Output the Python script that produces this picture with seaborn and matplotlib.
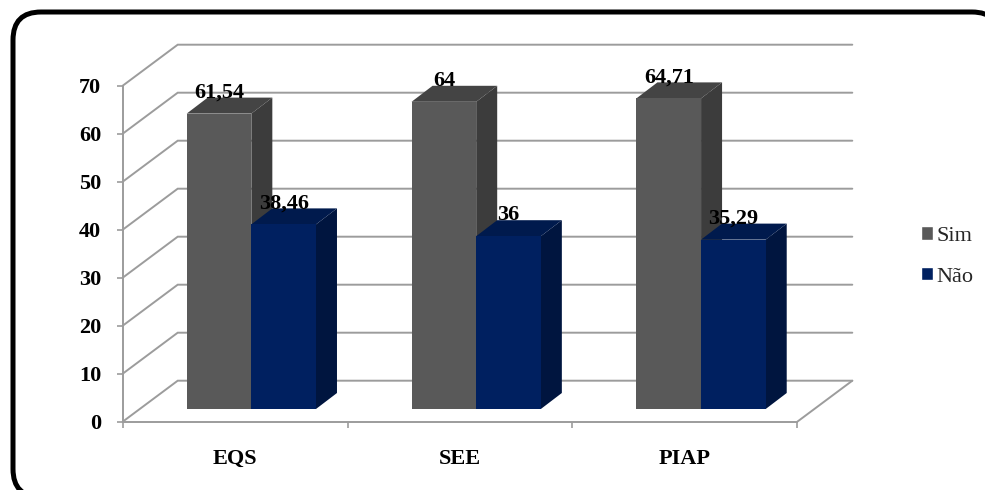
import matplotlib
matplotlib.use("Agg")
import matplotlib.pyplot as plt
import pandas as pd
import seaborn as sns
from matplotlib.patches import FancyBboxPatch, Polygon

categories = ["EQS", "SEE", "PIAP"]
sim_values = [61.54, 64, 64.71]
nao_values = [38.46, 36, 35.29]
series_names = ["Sim", "Não"]
y_ticks = [0, 10, 20, 30, 40, 50, 60, 70]

FRONT = {"Sim": "#595959", "Não": "#002060"}
SIDE = {"Sim": "#3c3c3c", "Não": "#00153f"}
TOP = {"Sim": "#444444", "Não": "#001a4d"}
GRID = "#9c9c9c"
W, H = 985, 490

sns.set_theme(style="white")
plt.rcParams["font.family"] = ["Liberation Serif", "DejaVu Serif"]

df = pd.DataFrame({
    "categoria": categories * 2,
    "resposta": [series_names[0]] * 3 + [series_names[1]] * 3,
    "valor": sim_values + nao_values,
})

fig = plt.figure(figsize=(W / 100, H / 100), dpi=100, facecolor="white")


def axes_rect(left, right, top, bottom):
    return [left / W, 1 - bottom / H, (right - left) / W, (bottom - top) / H]


# Rounded outer frame, running past the right and bottom edges of the canvas
backdrop = fig.add_axes([0, 0, 1, 1], zorder=0)
backdrop.set_xlim(0, W)
backdrop.set_ylim(0, H)
backdrop.axis("off")
backdrop.add_patch(FancyBboxPatch(
    (13, H - 497), 987, 485, boxstyle="round,pad=0,rounding_size=28",
    facecolor="white", edgecolor="black", linewidth=3.6,
))

# Front plane of the chart box: carries the axis lines, ticks and labels
ax = fig.add_axes(axes_rect(122.7, 797.3, 85.7, 421.7), zorder=1)
ax.patch.set_alpha(0)
ax.set_xlim(-0.5, 2.5)
ax.set_ylim(0, 70)
for side in ("top", "right"):
    ax.spines[side].set_visible(False)
for side in ("left", "bottom"):
    ax.spines[side].set_color(GRID)
    ax.spines[side].set_linewidth(1.4)

ax.set_yticks(y_ticks)
ax.set_xticks([-0.5, 0.5, 1.5, 2.5])
ax.set_xticklabels([])
ax.set_xticks(range(len(categories)), categories, minor=True)
ax.tick_params(axis="y", length=4.5, width=1.2, color=GRID, pad=11, left=True,
               labelsize=16, labelcolor="black")
ax.tick_params(axis="x", which="major", length=4.5, width=1.2, color=GRID, bottom=True)
ax.tick_params(axis="x", which="minor", length=0, pad=19.5, labelsize=16, labelcolor="black")
for label in ax.get_yticklabels() + ax.get_xticklabels(minor=True):
    label.set_fontweight("bold")

# Receding floor and wall lines
wall_dx = 55 / (674.6 / 3)
wall_dy = 41 / 4.8
for value in y_ticks:
    ax.plot([-0.5, -0.5 + wall_dx, 2.5 + wall_dx],
            [value, value + wall_dy, value + wall_dy],
            color=GRID, lw=1.4, clip_on=False, zorder=1, solid_joinstyle="miter")
ax.plot([2.5, 2.5 + wall_dx], [0, wall_dy], color=GRID, lw=1.4, clip_on=False, zorder=1)

# Bars sit on a plane slightly behind the front of the box
bars_ax = fig.add_axes(axes_rect(138.9, 813.5, 73.0, 409.0), zorder=2)
bars_ax.patch.set_alpha(0)
sns.barplot(data=df, x="categoria", y="valor", hue="resposta", hue_order=series_names,
            palette=FRONT, width=0.575, gap=0, saturation=1, ax=bars_ax, legend=True)
bars_ax.set_xlim(-0.5, 2.5)
bars_ax.set_ylim(0, 70)

depth_x = 21 / (674.6 / 3)
depth_y = 16 / 4.8
for order, (name, container) in enumerate(zip(series_names, bars_ax.containers)):
    for bar in container:
        x0, x1 = bar.get_x(), bar.get_x() + bar.get_width()
        top = bar.get_height()
        bar.set_zorder(4 + 2 * order)
        bar.set_edgecolor("none")
        bars_ax.add_patch(Polygon(
            [(x1, 0), (x1 + depth_x, depth_y), (x1 + depth_x, top + depth_y), (x1, top)],
            facecolor=SIDE[name], edgecolor="none", clip_on=False, zorder=3 + 2 * order))
        bars_ax.add_patch(Polygon(
            [(x0, top), (x0 + depth_x, top + depth_y), (x1 + depth_x, top + depth_y), (x1, top)],
            facecolor=TOP[name], edgecolor="none", clip_on=False, zorder=3 + 2 * order))
        bars_ax.annotate(f"{top:g}".replace(".", ","), ((x0 + x1) / 2, top),
                         xytext=(0, 11.5), textcoords="offset points",
                         ha="center", va="baseline", fontsize=16, fontweight="bold",
                         color="black", zorder=10, annotation_clip=False)

handles, labels = bars_ax.get_legend_handles_labels()
bars_ax.legend(handles, labels, loc="center left", bbox_to_anchor=(920.5 / W, 1 - 256.5 / H),
               bbox_transform=fig.transFigure, frameon=False, fontsize=16,
               handlelength=0.55, handleheight=0.55, handletextpad=0.17,
               labelspacing=0.95, borderpad=0, borderaxespad=0)
bars_ax.axis("off")

fig.savefig("out.png", dpi=100, facecolor="white")
